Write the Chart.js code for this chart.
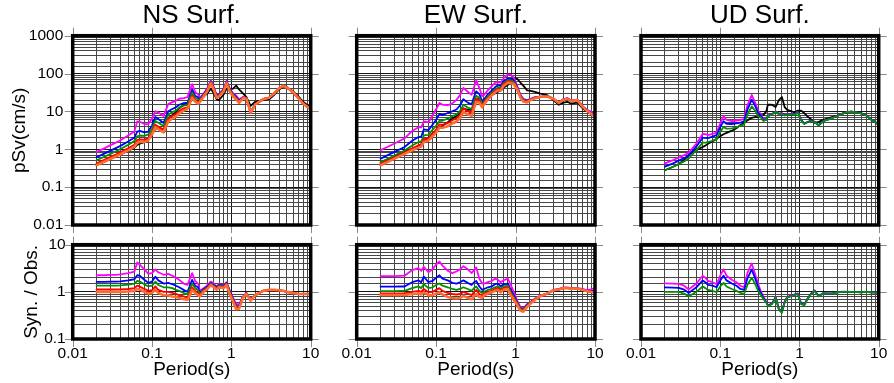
<!DOCTYPE html>
<html>
<head>
<meta charset="utf-8">
<script src="https://cdn.jsdelivr.net/npm/chart.js@4.4.1/dist/chart.umd.min.js"></script>
<style>
html,body{margin:0;padding:0;background:#ffffff;}
#wrap{position:relative;width:894px;height:383px;overflow:hidden;background:#fff;}
#wrap canvas{position:absolute;left:0;top:0;}
</style>
</head>
<body>
<div id="wrap">
<canvas id="c0" width="894" height="383"></canvas>
<canvas id="c1" width="894" height="383"></canvas>
<canvas id="c2" width="894" height="383"></canvas>
<canvas id="c3" width="894" height="383"></canvas>
<canvas id="c4" width="894" height="383"></canvas>
<canvas id="c5" width="894" height="383"></canvas>
</div>
<script>
// ---------------- data ----------------
const periods = [0.02,0.025,0.03,0.035,0.04,0.05,0.06,0.065,0.07,0.08,0.09,0.1,0.11,0.12,0.14,0.16,0.18,0.2,0.22,0.25,0.28,0.3,0.32,0.35,0.38,0.4,0.45,0.5,0.55,0.6,0.65,0.7,0.8,0.87,0.95,1.05,1.15,1.25,1.4,1.55,1.75,2.0,2.5,3.0,3.5,4.0,4.5,5.0,6.0,7.0,8.0,10.0];

const panelTitles = ["NS Surf.", "EW Surf.", "UD Surf."];
const periodTicks = [0.01, 0.1, 1, 10];
const psvTicks = [0.01, 0.1, 1, 10, 100, 1000];
const ratioTicks = [0.1, 1, 10];

// observed pSv (cm/s)
const nsObs = [0.38,0.47,0.56,0.65,0.74,0.92,1.1,1.3,1.4,1.55,1.9,2.6,3.4,3.6,3.3,6.5,8,9.5,12,15,17,19,21,19,19,22,25,30,40,30,21,20,28,40,38,40,48,38,30,24,14,18,20,21,28,38,45,43,34,25,18,12.5];
const ewObs = [0.44,0.55,0.66,0.77,0.88,1.05,1.2,1.35,1.6,2.0,2.6,3.0,3.8,4.2,5.2,6.5,7.5,9,12,11,11,15,20,22,17,18,23,27,30,33,36,42,50,66,78,72,58,48,36,35,33,30,27,20,15,17,18,16,17,12,10,7.5];
const udObs = [0.28,0.34,0.41,0.52,0.72,0.95,1.15,1.25,1.4,1.6,1.9,2.2,2.5,2.7,3.1,3.6,4.4,5.0,5.8,6.8,7.2,7.0,8.0,8.0,10,15,15,13,20,24,13,11,10,9.5,10.5,10.5,9,7.5,6.2,5.0,5.3,6.0,7.0,7.8,8.8,9.6,9.8,9.6,9.0,7.8,6.2,4.6];

// Syn. / Obs. ratios, one list per synthetic
const nsMagenta = [2.25,2.25,2.3,2.3,2.35,2.5,2.7,4.2,3.8,3.0,2.4,2.5,3.0,2.6,2.3,2.4,2.2,2.0,1.8,1.5,1.4,1.9,2.5,1.7,1.5,1.05,1.2,1.4,1.65,1.5,1.3,1.45,1.4,1.6,1.1,0.75,0.55,0.55,0.8,0.95,0.7,0.85,1.05,1.1,1.1,1.08,1.05,1.0,0.95,0.9,0.9,0.92];
const nsBlue    = [1.63,1.63,1.65,1.65,1.66,1.75,1.85,2.25,2.2,1.8,1.55,1.65,2.1,1.75,1.5,1.55,1.45,1.35,1.25,1.1,1.0,1.35,1.8,1.35,1.25,0.95,1.15,1.3,1.55,1.4,1.25,1.4,1.35,1.55,1.05,0.7,0.5,0.5,0.78,0.93,0.68,0.85,1.05,1.1,1.1,1.08,1.05,1.0,0.95,0.9,0.9,0.9];
const nsGreen   = [1.35,1.35,1.35,1.36,1.37,1.42,1.5,1.7,1.65,1.45,1.3,1.35,1.65,1.4,1.25,1.25,1.2,1.1,1.05,0.95,0.88,1.15,1.5,1.2,1.1,0.92,1.1,1.25,1.5,1.35,1.2,1.35,1.3,1.5,1.0,0.68,0.48,0.48,0.77,0.92,0.67,0.85,1.05,1.1,1.1,1.08,1.05,1.0,0.95,0.9,0.9,0.9];
const nsRed     = [1.12,1.12,1.12,1.12,1.13,1.15,1.2,1.35,1.3,1.15,1.05,1.08,1.3,1.1,1.0,1.0,0.95,0.9,0.85,0.8,0.75,0.95,1.25,1.05,0.95,0.85,1.05,1.2,1.45,1.3,1.15,1.3,1.25,1.45,0.95,0.65,0.45,0.46,0.76,0.92,0.66,0.85,1.05,1.1,1.1,1.08,1.05,1.0,0.95,0.9,0.9,0.9];
const nsOrange  = [1.0,1.0,1.0,1.0,1.0,1.02,1.05,1.15,1.12,1.0,0.92,0.95,1.12,0.95,0.85,0.85,0.8,0.78,0.74,0.7,0.68,0.85,1.1,0.95,0.85,0.8,1.0,1.15,1.4,1.25,1.1,1.25,1.2,1.4,0.9,0.62,0.43,0.44,0.75,0.9,0.65,0.85,1.05,1.1,1.1,1.08,1.05,1.0,0.95,0.9,0.9,0.9];

const ewMagenta = [2.16,2.16,2.16,2.18,2.2,2.9,3.2,2.8,3.4,2.6,3.0,3.8,4.4,3.6,2.8,2.5,2.7,3.0,3.5,3.0,2.5,2.9,3.3,1.9,1.5,1.5,1.6,1.7,1.9,1.8,1.6,1.75,1.9,1.4,1.0,0.65,0.48,0.45,0.55,0.62,0.72,0.82,0.93,1.1,1.15,1.25,1.25,1.2,1.2,1.15,1.08,1.2];
const ewBlue    = [1.29,1.29,1.29,1.3,1.3,1.6,1.75,1.6,2.1,1.6,1.7,2.0,2.25,1.9,1.75,1.55,1.5,1.6,1.75,1.55,1.4,1.6,1.7,1.3,1.1,1.15,1.25,1.3,1.45,1.5,1.3,1.45,1.5,1.1,0.85,0.6,0.45,0.43,0.53,0.6,0.7,0.8,0.92,1.08,1.13,1.22,1.22,1.18,1.18,1.12,1.05,1.05];
const ewGreen   = [1.04,1.04,1.04,1.05,1.05,1.2,1.3,1.2,1.45,1.2,1.25,1.4,1.5,1.35,1.25,1.15,1.1,1.15,1.25,1.15,1.05,1.2,1.3,1.05,0.95,1.0,1.1,1.15,1.25,1.3,1.15,1.3,1.35,1.0,0.78,0.58,0.44,0.42,0.52,0.6,0.7,0.8,0.92,1.08,1.12,1.2,1.2,1.17,1.17,1.1,1.03,0.98];
const ewRed     = [0.93,0.93,0.93,0.93,0.93,1.0,1.05,1.0,1.15,0.98,1.0,1.1,1.2,1.05,0.95,0.9,0.88,0.9,1.0,0.92,0.85,1.0,1.1,0.9,0.85,0.92,1.0,1.05,1.15,1.2,1.05,1.2,1.25,0.92,0.72,0.55,0.42,0.4,0.5,0.58,0.68,0.8,0.92,1.08,1.12,1.2,1.2,1.17,1.17,1.1,1.03,0.97];
const ewOrange  = [0.86,0.86,0.86,0.86,0.86,0.9,0.92,0.88,0.98,0.85,0.85,0.92,0.98,0.88,0.78,0.74,0.72,0.74,0.82,0.75,0.7,0.82,0.9,0.78,0.75,0.85,0.92,0.98,1.05,1.1,0.98,1.1,1.15,0.85,0.68,0.52,0.4,0.38,0.48,0.57,0.67,0.8,0.92,1.08,1.12,1.2,1.2,1.17,1.17,1.1,1.03,0.97];

const udMagenta = [1.51,1.5,1.48,1.35,1.12,1.5,2.2,2.0,1.7,1.6,1.45,2.2,3.0,2.2,1.8,1.6,1.35,1.25,2.5,4.0,2.2,1.5,1.1,0.8,0.62,0.52,0.57,0.78,0.44,0.38,0.62,0.78,0.85,0.88,0.93,0.57,0.54,0.7,0.92,1.08,0.82,0.94,0.93,0.98,1.01,1.01,1.0,1.0,0.98,1.0,0.98,0.96];
const udBlue    = [1.24,1.23,1.22,1.12,0.95,1.25,1.75,1.6,1.4,1.35,1.25,1.75,2.2,1.75,1.5,1.35,1.15,1.1,1.9,3.0,1.8,1.3,1.0,0.75,0.61,0.51,0.56,0.76,0.43,0.37,0.61,0.76,0.83,0.86,0.91,0.56,0.53,0.69,0.91,1.06,0.81,0.93,0.92,0.97,1.0,1.0,1.0,1.0,0.98,1.0,0.98,0.96];
const udGreen   = [1.0,1.0,1.0,0.92,0.8,1.0,1.3,1.2,1.1,1.05,0.98,1.3,1.55,1.3,1.15,1.05,0.95,0.9,1.4,2.0,1.4,1.05,0.9,0.7,0.6,0.5,0.55,0.75,0.42,0.36,0.6,0.75,0.82,0.85,0.9,0.55,0.52,0.68,0.9,1.05,0.8,0.92,0.92,0.97,1.0,1.0,1.0,1.0,0.98,1.0,0.98,0.96];

// ---------------- styling ----------------
Chart.defaults.font.family = "'Liberation Sans', Arial, Helvetica, sans-serif";
Chart.defaults.color = '#000';

const STYLE = {
  obs:    {color:'#000000', width:1.8, order:6},
  magenta:{color:'#ff00ff', width:1.8, order:5},
  blue:   {color:'#0000ff', width:1.8, order:4},
  green:  {color:'#009000', width:1.8, order:3},
  red:    {color:'#ff0000', width:1.9, order:2},
  orange: {color:'#ff6a30', width:2.6, order:1}
};

const cols = [{left:72.7,right:310.7},{left:356.7,right:595},{left:641,right:878.7}];
const rowTop = {top:35.7,bottom:225};
const rowBot = {top:244.7,bottom:339};

function isDecade(v){ const l = Math.log10(v); return Math.abs(l - Math.round(l)) < 1e-6; }
function fmt(v){ return isDecade(v) ? String(+v.toPrecision(6)) : ''; }

function points(vals){ return periods.map((p,i)=>({x:p, y:vals[i]})); }
// Syn = Obs x (Syn/Obs)
function times(obs, ratio){ return obs.map((v,i)=>v*ratio[i]); }

function ds(kind, vals){
  const s = STYLE[kind];
  return {label:kind, data:points(vals), borderColor:s.color, backgroundColor:s.color,
          borderWidth:s.width, pointRadius:0, tension:0, fill:false, order:s.order,
          borderJoinStyle:'round', borderCapStyle:'round'};
}

const framePlugin = {
  id:'frame',
  afterDatasetsDraw(chart, args, opts){
    const {ctx, chartArea:{left,top,right,bottom}, scales:{x,y}} = chart;
    ctx.save();
    ctx.strokeStyle = '#8a8a8a';
    ctx.lineWidth = 1;
    const L = 8;
    ctx.beginPath();
    for (const v of periodTicks){
      const px = Math.round(x.getPixelForValue(v)) + 0.5;
      ctx.moveTo(px, top - L); ctx.lineTo(px, top);
      ctx.moveTo(px, bottom); ctx.lineTo(px, bottom + L);
    }
    for (const v of opts.yTicks){
      const py = Math.round(y.getPixelForValue(v)) + 0.5;
      ctx.moveTo(left - L, py); ctx.lineTo(left, py);
      ctx.moveTo(right, py); ctx.lineTo(right + L, py);
    }
    ctx.stroke();
    ctx.strokeStyle = '#000';
    ctx.lineWidth = 3.5;
    ctx.strokeRect(left, top, right - left, bottom - top);
    ctx.restore();
  }
};

const gridColor = c => (c.tick && isDecade(c.tick.value)) ? '#151515' : '#474747';

function makePanel(id, col, isTop, title, yLabels, datasets){
  const row = isTop ? rowTop : rowBot;
  const yW = yLabels ? col.left : 0;
  const xH = isTop ? 0 : 383 - row.bottom;
  const cfg = {
    type:'line',
    data:{datasets},
    options:{
      responsive:false, animation:false, devicePixelRatio:1,
      layout:{padding:{left: col.left - yW, right: 894 - col.right,
                       top: isTop ? 0 : row.top, bottom: isTop ? 383 - row.bottom : 0}},
      plugins:{
        legend:{display:false}, tooltip:{enabled:false},
        title: isTop ? {display:true, text:title, fullSize:false, color:'#000',
                        font:{size:26, weight:'normal'}, padding:{top:0, bottom:4.5}} : {display:false},
        frame:{yTicks: isTop ? psvTicks : ratioTicks}
      },
      scales:{
        x:{type:'logarithmic', position:'bottom', min:0.01, max:10,
           afterFit: s => { s.height = xH; },
           grid:{color:gridColor, lineWidth:1, drawTicks:false},
           border:{display:false},
           ticks:{display: !isTop, autoSkip:false, maxRotation:0, minRotation:0, padding:5,
                  font:{size:15.5}, color:'#000', callback: v => fmt(v)},
           title:{display: !isTop, text:'Period(s)', color:'#000', font:{size:19}, padding:{top:0,bottom:1.5}}
        },
        y:{type:'logarithmic', position:'left',
           min: isTop ? 0.01 : 0.1, max: isTop ? 1000 : 10,
           afterFit: s => { s.width = yW; },
           grid:{color:gridColor, lineWidth:1, drawTicks:false},
           border:{display:false},
           ticks:{display: !!yLabels, autoSkip:false, padding: isTop ? 9.4 : 7, font:{size:15.5}, color:'#000',
                  callback: v => fmt(v)},
           title:{display: !!yLabels, text: isTop ? 'pSv(cm/s)' : 'Syn. / Obs.', color:'#000',
                  font:{size:19}, padding:{top: isTop ? 8.6 : 20, bottom:0}}
        }
      }
    },
    plugins:[framePlugin]
  };
  return new Chart(document.getElementById(id), cfg);
}

// NS
makePanel('c0', cols[0], true, panelTitles[0], true, [
  ds('obs', nsObs),
  ds('magenta', times(nsObs, nsMagenta)), ds('blue', times(nsObs, nsBlue)),
  ds('green', times(nsObs, nsGreen)), ds('red', times(nsObs, nsRed)), ds('orange', times(nsObs, nsOrange))
]);
makePanel('c3', cols[0], false, null, true, [
  ds('magenta', nsMagenta), ds('blue', nsBlue), ds('green', nsGreen), ds('red', nsRed), ds('orange', nsOrange)
]);
// EW
makePanel('c1', cols[1], true, panelTitles[1], false, [
  ds('obs', ewObs),
  ds('magenta', times(ewObs, ewMagenta)), ds('blue', times(ewObs, ewBlue)),
  ds('green', times(ewObs, ewGreen)), ds('red', times(ewObs, ewRed)), ds('orange', times(ewObs, ewOrange))
]);
makePanel('c4', cols[1], false, null, false, [
  ds('magenta', ewMagenta), ds('blue', ewBlue), ds('green', ewGreen), ds('red', ewRed), ds('orange', ewOrange)
]);
// UD
makePanel('c2', cols[2], true, panelTitles[2], false, [
  ds('obs', udObs),
  ds('magenta', times(udObs, udMagenta)), ds('blue', times(udObs, udBlue)), ds('green', times(udObs, udGreen))
]);
makePanel('c5', cols[2], false, null, false, [
  ds('magenta', udMagenta), ds('blue', udBlue), ds('green', udGreen)
]);
</script>
</body>
</html>
